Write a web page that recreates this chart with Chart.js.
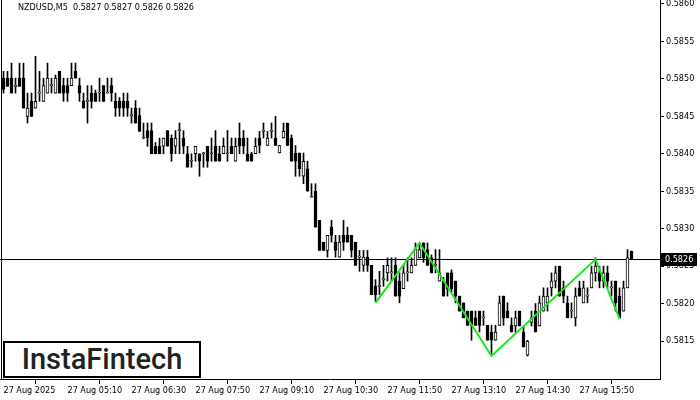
<!DOCTYPE html>
<html>
<head>
<meta charset="utf-8">
<script src="https://cdn.jsdelivr.net/npm/chart.js@4.4.1/dist/chart.umd.min.js"></script>
<style>
html, body { margin: 0; padding: 0; background: #fff; }
#wrap { position: relative; width: 700px; height: 400px; overflow: hidden; }
#title { position: absolute; left: 18px; top: 2px; font: 9px 'DejaVu Sans Condensed', 'Liberation Sans', sans-serif; color: #000; white-space: pre; }
#logo { position: absolute; left: 3px; top: 341px; width: 198px; height: 37px; box-sizing: border-box; border: 2px solid #000; background: #fff;
        font: 500 29px Roboto, sans-serif; color: #222; text-align: center; line-height: 33px; }
</style>
</head>
<body>
<div id="wrap">
  <canvas id="chart" width="700" height="400"></canvas>
  <div id="title"></div>
  <div id="logo">InstaFintech</div>
</div>
<script>
// NZDUSD M5 candles, 27 Aug 2025 03:50 .. 16:55
const symbol = 'NZDUSD,M5';

const open = [
  0.58501,0.58501,0.58501,0.58490,0.58501,0.58501,0.58450,0.58470,0.58461,0.58481,
  0.58470,0.58481,0.58491,0.58481,0.58510,0.58491,0.58491,0.58491,0.58510,0.58491,
  0.58470,0.58470,0.58481,0.58481,0.58481,0.58491,0.58481,0.58491,0.58470,0.58470,
  0.58470,0.58470,0.58451,0.58461,0.58451,0.58421,0.58431,0.58431,0.58410,0.58410,
  0.58410,0.58431,0.58421,0.58410,0.58431,0.58421,0.58400,0.58390,0.58400,0.58400,
  0.58400,0.58410,0.58400,0.58410,0.58400,0.58400,0.58400,0.58410,0.58390,0.58421,
  0.58421,0.58400,0.58400,0.58400,0.58421,0.58430,0.58411,0.58430,0.58421,0.58401,
  0.58421,0.58441,0.58421,0.58401,0.58401,0.58370,0.58380,0.58342,0.58350,0.58311,
  0.58282,0.58271,0.58302,0.58282,0.58262,0.58291,0.58291,0.58291,0.58282,0.58262,
  0.58251,0.58262,0.58251,0.58223,0.58223,0.58232,0.58241,0.58241,0.58251,0.58230,
  0.58220,0.58241,0.58241,0.58251,0.58261,0.58281,0.58272,0.58261,0.58251,0.58230,
  0.58230,0.58241,0.58241,0.58230,0.58210,0.58201,0.58190,0.58190,0.58181,0.58190,
  0.58181,0.58171,0.58162,0.58151,0.58171,0.58210,0.58190,0.58171,0.58170,0.58190,
  0.58162,0.58131,0.58175,0.58190,0.58170,0.58190,0.58201,0.58221,0.58230,0.58250,
  0.58221,0.58201,0.58190,0.58181,0.58221,0.58201,0.58210,0.58221,0.58241,0.58241,
  0.58230,0.58241,0.58221,0.58230,0.58210,0.58190,0.58221,0.58270
];
const high = [
  0.58510,0.58510,0.58521,0.58501,0.58521,0.58521,0.58481,0.58481,0.58530,0.58510,
  0.58501,0.58521,0.58501,0.58505,0.58510,0.58501,0.58501,0.58521,0.58521,0.58501,
  0.58481,0.58491,0.58491,0.58485,0.58501,0.58491,0.58501,0.58501,0.58481,0.58475,
  0.58481,0.58481,0.58461,0.58471,0.58461,0.58441,0.58441,0.58441,0.58415,0.58421,
  0.58421,0.58431,0.58425,0.58431,0.58441,0.58431,0.58410,0.58400,0.58410,0.58400,
  0.58402,0.58410,0.58421,0.58431,0.58410,0.58421,0.58431,0.58421,0.58421,0.58441,
  0.58431,0.58421,0.58402,0.58421,0.58430,0.58441,0.58430,0.58441,0.58450,0.58411,
  0.58441,0.58441,0.58425,0.58411,0.58401,0.58401,0.58390,0.58360,0.58360,0.58311,
  0.58282,0.58291,0.58311,0.58291,0.58291,0.58311,0.58302,0.58291,0.58282,0.58271,
  0.58271,0.58271,0.58251,0.58232,0.58243,0.58251,0.58261,0.58261,0.58261,0.58241,
  0.58251,0.58261,0.58261,0.58281,0.58281,0.58281,0.58281,0.58265,0.58272,0.58272,
  0.58235,0.58241,0.58245,0.58230,0.58210,0.58201,0.58190,0.58190,0.58190,0.58190,
  0.58190,0.58171,0.58171,0.58171,0.58210,0.58210,0.58201,0.58181,0.58190,0.58190,
  0.58170,0.58151,0.58190,0.58200,0.58210,0.58221,0.58221,0.58241,0.58250,0.58250,
  0.58230,0.58210,0.58201,0.58221,0.58230,0.58230,0.58221,0.58250,0.58261,0.58250,
  0.58250,0.58250,0.58230,0.58230,0.58221,0.58230,0.58272,0.58270
];
const low = [
  0.58481,0.58490,0.58481,0.58481,0.58490,0.58461,0.58441,0.58450,0.58461,0.58470,
  0.58470,0.58481,0.58481,0.58481,0.58481,0.58470,0.58470,0.58491,0.58501,0.58470,
  0.58461,0.58441,0.58461,0.58470,0.58470,0.58470,0.58481,0.58470,0.58450,0.58450,
  0.58450,0.58450,0.58441,0.58441,0.58430,0.58420,0.58410,0.58400,0.58400,0.58400,
  0.58400,0.58410,0.58390,0.58400,0.58400,0.58400,0.58382,0.58382,0.58390,0.58370,
  0.58382,0.58382,0.58390,0.58390,0.58390,0.58400,0.58390,0.58400,0.58390,0.58400,
  0.58400,0.58390,0.58390,0.58400,0.58401,0.58421,0.58411,0.58421,0.58411,0.58401,
  0.58421,0.58411,0.58390,0.58370,0.58370,0.58360,0.58350,0.58342,0.58302,0.58271,
  0.58271,0.58262,0.58282,0.58262,0.58262,0.58271,0.58282,0.58262,0.58251,0.58243,
  0.58243,0.58243,0.58212,0.58203,0.58212,0.58223,0.58230,0.58230,0.58210,0.58201,
  0.58220,0.58230,0.58241,0.58251,0.58261,0.58255,0.58251,0.58241,0.58241,0.58230,
  0.58210,0.58210,0.58215,0.58201,0.58190,0.58181,0.58171,0.58151,0.58171,0.58162,
  0.58171,0.58151,0.58133,0.58151,0.58171,0.58171,0.58181,0.58162,0.58162,0.58170,
  0.58142,0.58130,0.58170,0.58162,0.58170,0.58190,0.58190,0.58210,0.58221,0.58210,
  0.58201,0.58181,0.58181,0.58170,0.58210,0.58201,0.58201,0.58221,0.58230,0.58221,
  0.58221,0.58221,0.58210,0.58190,0.58181,0.58190,0.58221,0.58260
];
const close = [
  0.58486,0.58490,0.58481,0.58490,0.58490,0.58461,0.58461,0.58450,0.58470,0.58481,
  0.58491,0.58501,0.58491,0.58501,0.58481,0.58481,0.58481,0.58501,0.58501,0.58481,
  0.58461,0.58470,0.58470,0.58470,0.58481,0.58470,0.58481,0.58481,0.58461,0.58461,
  0.58461,0.58461,0.58451,0.58441,0.58430,0.58421,0.58421,0.58400,0.58400,0.58400,
  0.58421,0.58410,0.58400,0.58421,0.58431,0.58410,0.58382,0.58390,0.58410,0.58390,
  0.58400,0.58390,0.58400,0.58390,0.58390,0.58410,0.58400,0.58400,0.58410,0.58410,
  0.58410,0.58390,0.58390,0.58410,0.58411,0.58430,0.58421,0.58430,0.58411,0.58411,
  0.58430,0.58411,0.58390,0.58390,0.58380,0.58390,0.58350,0.58342,0.58302,0.58271,
  0.58271,0.58291,0.58291,0.58271,0.58282,0.58282,0.58282,0.58271,0.58251,0.58262,
  0.58262,0.58251,0.58212,0.58212,0.58223,0.58232,0.58251,0.58241,0.58210,0.58210,
  0.58241,0.58241,0.58251,0.58272,0.58272,0.58261,0.58251,0.58241,0.58251,0.58241,
  0.58210,0.58220,0.58220,0.58210,0.58190,0.58181,0.58171,0.58171,0.58171,0.58171,
  0.58181,0.58151,0.58151,0.58162,0.58201,0.58181,0.58181,0.58162,0.58181,0.58170,
  0.58142,0.58150,0.58181,0.58162,0.58201,0.58210,0.58210,0.58230,0.58241,0.58210,
  0.58210,0.58181,0.58190,0.58210,0.58210,0.58221,0.58210,0.58241,0.58250,0.58230,
  0.58241,0.58230,0.58221,0.58201,0.58181,0.58221,0.58261,0.58260
];

// time axis labels, one every 16 bars
const tickIdx = [0, 16, 32, 48, 64, 80, 96, 112, 128, 144];
const tickLabels = ['27 Aug 2025', '27 Aug 05:10', '27 Aug 06:30', '27 Aug 07:50', '27 Aug 09:10',
                    '27 Aug 10:30', '27 Aug 11:50', '27 Aug 13:10', '27 Aug 14:30', '27 Aug 15:50'];
const priceTicks = [0.5815, 0.5820, 0.5825, 0.5830, 0.5835, 0.5840, 0.5845, 0.5850, 0.5855, 0.5860];

// green pattern zigzag (bar index, price)
const patternIdx = [93, 104, 122, 148, 154];
const patternPrice = [0.58201, 0.58281, 0.58130, 0.58259, 0.58180];

const FONT = "'DejaVu Sans Condensed', 'Liberation Sans', sans-serif";
const last = close.length - 1;
const fmt = v => v.toFixed(4);

document.getElementById('title').textContent =
  symbol + '  ' + [open[last], high[last], low[last], close[last]].map(fmt).join(' ');

const bodies = close.map((c, i) => ({ x: i, y: [Math.min(open[i], c), Math.max(open[i], c)] }));
const wicks = close.map((c, i) => ({ x: i, y: [low[i], high[i]] }));
const bodyFill = close.map((c, i) => c >= open[i] ? '#ffffff' : '#000000');

const priceLine = {
  id: 'priceLine',
  beforeDatasetsDraw(chart) {
    const { ctx, chartArea: a, scales: { y } } = chart;
    const py = Math.round(y.getPixelForValue(close[last])) + 0.5;
    ctx.save();
    ctx.strokeStyle = '#000';
    ctx.lineWidth = 1;
    ctx.beginPath();
    ctx.moveTo(1.5, a.top); ctx.lineTo(1.5, a.bottom);
    ctx.moveTo(a.left, py); ctx.lineTo(a.right, py);
    ctx.stroke();
    ctx.restore();
  },
  afterDraw(chart) {
    const { ctx, chartArea: a, scales: { y } } = chart;
    const py = Math.round(y.getPixelForValue(close[last]));
    ctx.save();
    ctx.fillStyle = '#000';
    ctx.fillRect(a.right + 1, py - 6, 36, 13);
    ctx.fillStyle = '#fff';
    ctx.font = '9px ' + FONT;
    ctx.textBaseline = 'middle';
    ctx.fillText(fmt(close[last]), a.right + 5, py + 0.5);
    ctx.restore();
  }
};

new Chart(document.getElementById('chart'), {
  type: 'bar',
  data: {
    datasets: [
      {
        type: 'line',
        data: patternIdx.map((v, k) => ({ x: v, y: patternPrice[k] })),
        borderColor: '#19e619',
        borderWidth: 2,
        pointRadius: 0,
        tension: 0,
        order: 0
      },
      {
        data: bodies,
        backgroundColor: bodyFill,
        borderColor: '#000',
        borderWidth: 1,
        borderSkipped: false,
        barThickness: 3,
        minBarLength: 1,
        grouped: false,
        order: 1
      },
      {
        data: wicks,
        backgroundColor: '#000',
        borderWidth: 0,
        barThickness: 1,
        grouped: false,
        order: 2
      }
    ]
  },
  options: {
    responsive: false,
    devicePixelRatio: 1,
    animation: false,
    events: [],
    layout: { padding: 0 },
    plugins: { legend: { display: false }, tooltip: { enabled: false } },
    scales: {
      x: {
        type: 'linear',
        offset: false,
        min: -0.875,
        max: 164.125,
        afterBuildTicks: s => { s.ticks = tickIdx.map(v => ({ value: v })); },
        afterFit: s => { s.height = 21; s.paddingLeft = 0; s.paddingRight = 0; },
        ticks: {
          align: 'start', maxRotation: 0, autoSkip: false, padding: 1, color: '#000',
          font: { family: FONT, size: 9 },
          callback: (v, k) => tickLabels[k]
        },
        grid: { drawOnChartArea: false, drawTicks: true, tickLength: 5, color: '#000' },
        border: { display: true, color: '#000' }
      },
      y: {
        position: 'right',
        min: 0.580993,
        max: 0.586053,
        afterBuildTicks: s => { s.ticks = priceTicks.map(v => ({ value: v })); },
        afterFit: s => { s.width = 40; s.paddingTop = 0; s.paddingBottom = 0; },
        ticks: {
          padding: 2, color: '#000',
          font: { family: FONT, size: 9 },
          callback: v => fmt(v)
        },
        grid: { drawOnChartArea: false, drawTicks: true, tickLength: 4, color: '#000' },
        border: { display: true, color: '#000' }
      }
    }
  },
  plugins: [priceLine]
});
</script>
</body>
</html>
